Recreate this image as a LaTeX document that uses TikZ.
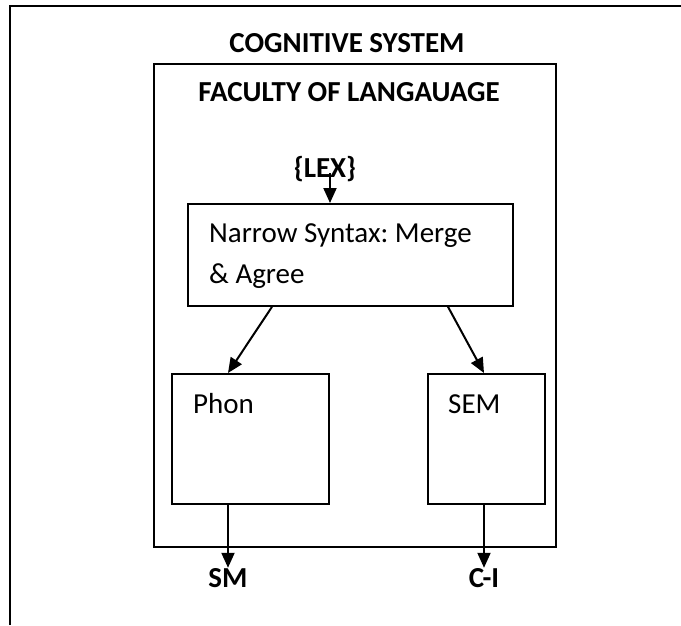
\documentclass[tikz,border=0pt]{standalone}
\usepackage{fontspec}
\setmainfont{Carlito}
\usetikzlibrary{arrows.meta}
\begin{document}
\frenchspacing
\begin{tikzpicture}[x=1pt,y=-1pt,
  box/.style={draw, line width=1.8pt, inner sep=0pt},
  arr/.style={line width=2pt, -{Triangle[length=15pt,width=13pt]}},
  txt/.style={font=\fontsize{29}{34}\selectfont, inner sep=0pt, anchor=base west},
  ttl/.style={font=\fontsize{29}{34}\selectfont\bfseries, inner sep=0pt, anchor=base}]
\useasboundingbox[fill=white] (0,0) rectangle (681,625);
% outer frame (cut off at right and bottom)
\draw[line width=2pt] (10,625) -- (10,6) -- (681,6);
\node[ttl] (cog) at (347,52) {COGNITIVE SYSTEM};
% faculty box
\node[box, minimum width=402pt, minimum height=483pt, anchor=north west] (fl) at (153,63) {};
\node[ttl] (fac) at (349,101) {FACULTY OF LANGAUAGE};
\node[ttl] (lex) at (325,177) {\{LEX\}};
% narrow syntax
\node[box, minimum width=325pt, minimum height=102pt, anchor=north west] (ns) at (187,203) {};
\node[txt] (ns1) at (209,242) {Narrow Syntax: Merge};
\node[txt] (ns2) at (209,283) {\& Agree};
% phon and sem
\node[box, minimum width=157pt, minimum height=130pt, anchor=north west] (phon) at (171,373) {};
\node[txt] (phont) at (193,413) {Phon};
\node[box, minimum width=117pt, minimum height=130pt, anchor=north west] (sem) at (427,373) {};
\node[txt] (semt) at (448,413) {SEM};
% outputs
\node[ttl] (sm) at (228,587) {SM};
\node[ttl] (ci) at (484,587) {C-I};
% helper x positions
\coordinate (xl) at (330,0);
\coordinate (xa) at (272,0);
\coordinate (xb) at (228,0);
\coordinate (xc) at (448,0);
\coordinate (xd) at (484,0);
% connectors
\draw[arr] ([yshift=4pt]lex.base -| xl) -- (ns.north -| xl);
\draw[arr] (ns.south -| xa) -- (phon.north -| xb);
\draw[arr] (ns.south -| xc) -- (sem.north -| xd);
\draw[arr] (phon.south -| xb) -- (sm.north -| xb);
\draw[arr] (sem.south -| xd) -- (ci.north -| xd);
\end{tikzpicture}
\end{document}
